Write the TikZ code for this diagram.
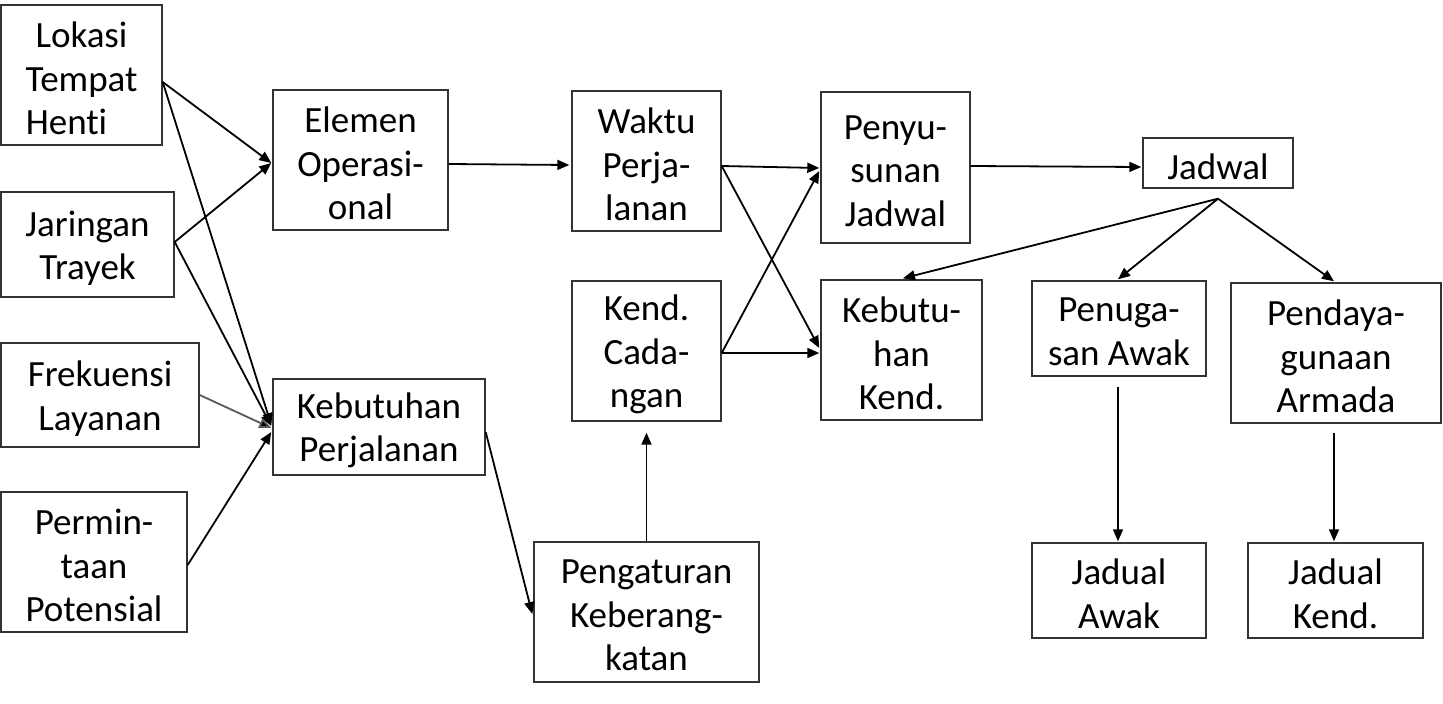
\documentclass[tikz,border=0pt]{standalone}
\usepackage{fontspec}
\setmainfont{Carlito}[Ligatures=NoCommon]
\usetikzlibrary{arrows.meta,calc}
\begin{document}
\begin{tikzpicture}[x=1pt,y=-1pt,
  txt/.style={align=center,inner sep=0pt,yshift=-3.5pt,
    font=\fontsize{37}{43.5}\selectfont},
  box/.style={draw=black!80,line width=1.4pt,inner sep=0pt,
    label={[txt]center:#1}},
  arr/.style={line width=1.8pt,-{Triangle[length=12pt,width=10pt]}},
  garr/.style={arr,draw=black!65,-{Triangle[length=12pt,width=10pt,fill=black]}}]
\useasboundingbox (0,0) rectangle (1443,704);
\fill[white] (0,0) rectangle (1443,704);
% nodes
\node[box={Lokasi\\Tempat\\Hent\kern0pt i\rule{30pt}{0pt}},minimum width=161pt,minimum height=140pt] (lok) at (81.5,75) {};
\node[box={Jaringan\\Trayek},minimum width=173pt,minimum height=105pt] (jar) at (87.5,244.5) {};
\node[box={Frekuensi\\Layanan},minimum width=198pt,minimum height=104pt] (fre) at (100,395) {};
\node[box={Permin-\\taan\\Potensial},minimum width=186pt,minimum height=140pt] (per) at (94,562) {};
\node[box={Elemen\\Operasi-\\onal},minimum width=175pt,minimum height=140pt] (ele) at (360.5,160) {};
\node[box={Kebutuhan\\Perjalanan},minimum width=212pt,minimum height=96pt] (kbp) at (379,427) {};
\node[box={Waktu\\Perja-\\lanan},minimum width=149pt,minimum height=140pt] (wak) at (646.5,161) {};
\node[box={Kend.\\Cada-\\ngan},minimum width=149pt,minimum height=140pt] (kca) at (646.5,351) {};
\node[box={Pengaturan\\Keberang-\\katan},minimum width=225pt,minimum height=140pt] (pen) at (646.5,612) {};
\node[box={Penyu-\\sunan\\Jadwal},minimum width=149pt,minimum height=151pt] (pys) at (895.5,167.5) {};
\node[box={Kebutu-\\han\\Kend.},minimum width=161pt,minimum height=140pt] (kbk) at (901.5,350) {};
\node[box={Jadwal},minimum width=150pt,minimum height=50pt] (jad) at (1218,163) {};
\node[box={Penuga-\\san Awak},minimum width=174pt,minimum height=95pt] (pgs) at (1119,328.5) {};
\node[box={Pendaya-\\gunaan\\Armada},minimum width=210pt,minimum height=140pt] (pda) at (1336,353) {};
\node[box={Jadual\\Awak},minimum width=174pt,minimum height=95pt] (jaw) at (1119,590.5) {};
\node[box={Jadual\\Kend.},minimum width=175pt,minimum height=95pt] (jkd) at (1335.5,590.5) {};
% helper coordinates
\coordinate (lokO) at ($(lok.east)+(0,7)$);
\coordinate (jarO) at ($(jar.east)+(0,-2.5)$);
\coordinate (eleI) at ($(ele.west)+(-1,3)$);
\coordinate (wakO) at ($(wak.east)+(0,5)$);
\coordinate (kcaO) at ($(kca.east)+(0,2)$);
\coordinate (ja) at ($(jad.south)+(0,10)$);
% left connectors
\draw[arr] (lokO) -- (eleI);
\draw[arr] (lokO) -- ($(kbp.west)+(-1,-2)$);
\draw[arr] (jarO) -- (eleI);
\draw[arr] (jarO) -- ($(kbp.west)+(-1,-1)$);
\draw[garr] (fre.east) -- ($(kbp.west)+(-1,1)$);
\draw[arr] ($(per.east)+(0,3)$) -- ($(kbp.west)+(-1,5)$);
% middle connectors
\draw[arr] ($(ele.east)+(0,4)$) -- ($(wak.west)+(-2,4)$);
\draw[arr] (wakO) -- ($(pys.west)+(-1,0.5)$);
\draw[arr] (wakO) -- ($(kbk.west)+(-1,-2)$);
\draw[arr] (kcaO) -- ($(pys.west)+(-1,3.5)$);
\draw[arr] (kcaO) -- ($(kbk.west)+(-1,3)$);
\draw[arr] ($(kbp.east)+(0,5)$) -- ($(pen.west)+(-1,2)$);
\draw[arr] (pen.north) -- ($(kca.south)+(0,11)$);
% right connectors
\draw[arr] ($(pys.east)+(0,-1.5)$) -- ($(jad.west)+(-1,4)$);
\draw[arr] (ja) -- ($(kbk.north)+(1.5,-1)$);
\draw[arr] (ja) -- ($(pgs.north)+(-1,-1)$);
\draw[arr] (ja) -- ($(pda.north)+(-2,-1)$);
\draw[arr] ($(pgs.south)+(-1,10)$) -- ($(jaw.north)+(-1,-1)$);
\draw[arr] ($(pda.south)+(-2,9)$) -- ($(jkd.north)+(-1.5,-1)$);
\end{tikzpicture}
\end{document}
